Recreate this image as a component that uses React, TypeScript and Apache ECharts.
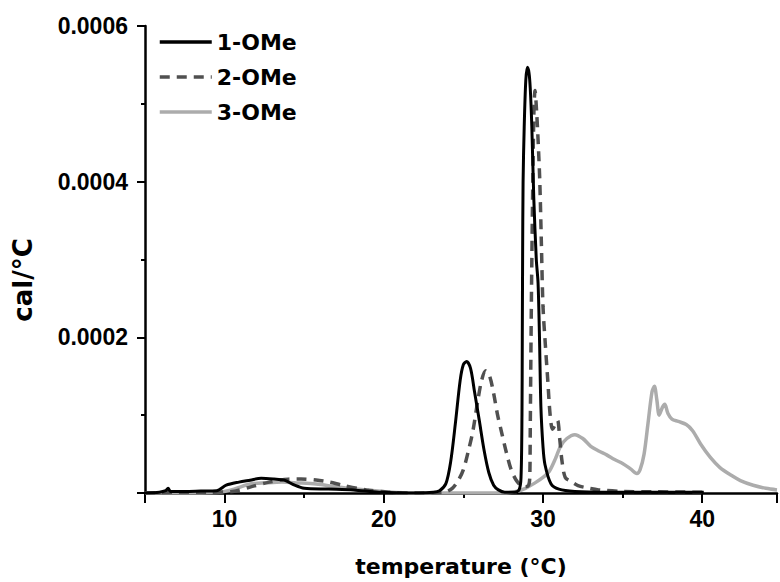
import React, { useEffect, useRef } from "react";
import * as echarts from "echarts";

const seriesNames = ["1-OMe", "2-OMe", "3-OMe"];

const ome1: [number, number][] = [
  [5.0, 0], [5.9, 0.000001], [6.3, 0.000003], [6.45, 0.000006], [6.6, 0.000002], [7.5, 0.000002],
  [8.5, 0.0000025], [9.5, 0.000003], [10.1, 0.00001], [10.9, 0.000014], [11.6, 0.0000165],
  [12.3, 0.000019], [13.1, 0.000018], [13.75, 0.0000165], [14.4, 0.00001], [15.0, 0.000006],
  [16.5, 0.000005], [18.1, 0.000004], [19.7, 0.000001], [22.2, 0], [23.1, 0.000001],
  [23.5, 0.000003], [23.9, 0.000012], [24.2, 0.00004], [24.5, 0.00009], [24.8, 0.000145],
  [25.0, 0.000165], [25.2, 0.000169], [25.45, 0.00016], [25.7, 0.00013], [26.0, 0.000093],
  [26.3, 0.000055], [26.6, 0.000026], [26.9, 0.00001], [27.2, 0.000004], [27.6, 0.000001],
  [28.2, 0.000001], [28.5, 0.000004], [28.62, 0.00002], [28.68, 0.0001], [28.7, 0.0002],
  [28.72, 0.0003], [28.75, 0.0004], [28.82, 0.00047], [28.92, 0.00053], [29.02, 0.000547],
  [29.12, 0.00054], [29.2, 0.00052], [29.3, 0.00047], [29.42, 0.00038], [29.58, 0.0003],
  [29.69, 0.00027], [29.78, 0.0002], [29.87, 0.00011], [30.0, 0.00006], [30.12, 0.000037],
  [30.5, 0.000012], [31.0, 0.000005], [32.0, 0.000002], [34.0, 0.000001], [36.0, 0.000001],
  [38.0, 0.000001], [40.1, 0.000001],
];

const ome2: [number, number][] = [
  [5.0, 0], [7.0, 0.000001], [9.0, 0.000001], [10.5, 0.000002], [11.6, 0.0000076],
  [12.8, 0.000014], [14.0, 0.0000178], [14.8, 0.000018], [15.75, 0.0000166], [16.6, 0.000014],
  [17.4, 0.00001], [18.9, 0.000004], [20.3, 0.000001], [22.0, 0], [23.8, 0.000001],
  [24.3, 0.000006], [24.7, 0.000017], [25.0, 0.00003], [25.3, 0.000053], [25.6, 0.00008],
  [25.9, 0.000118], [26.15, 0.000145], [26.4, 0.000157], [26.65, 0.00015], [26.9, 0.000128],
  [27.15, 0.0001], [27.4, 0.000078], [27.7, 0.000052], [28.0, 0.00003], [28.3, 0.000017],
  [28.6, 0.00001], [28.9, 0.000008], [29.1, 0.00001], [29.17, 0.00002], [29.2, 0.00008],
  [29.25, 0.0002], [29.3, 0.0003], [29.36, 0.0004], [29.43, 0.00049], [29.5, 0.000517],
  [29.6, 0.00049], [29.7, 0.00045], [29.8, 0.0004], [29.9, 0.00032], [30.0, 0.00024],
  [30.15, 0.00019], [30.3, 0.000145], [30.45, 0.0001], [30.6, 0.000082], [30.78, 0.000088],
  [30.92, 0.000093], [31.05, 0.00007], [31.2, 0.00004], [31.4, 0.00002], [31.75, 0.000015],
  [32.2, 0.0000095], [32.8, 0.0000065], [33.5, 0.000004], [35.0, 0.000002], [37.0, 0.0000015],
  [40.1, 0.000001],
];

const ome3: [number, number][] = [
  [5.0, 0], [8.0, 0], [9.7, 0.000001], [10.6, 0.000005], [11.6, 0.0000115], [12.6, 0.000013],
  [13.6, 0.000014], [14.6, 0.000013], [15.75, 0.0000115], [17.0, 0.000008], [18.25, 0.000005],
  [20.3, 0.0000013], [22.0, 0], [27.5, 0], [28.3, 0.000002], [28.9, 0.000006], [29.5, 0.000013],
  [30.0, 0.00002], [30.4, 0.000028], [30.8, 0.000045], [31.1, 0.00006], [31.5, 0.00007],
  [32.0, 0.000075], [32.5, 0.00007], [33.0, 0.00006], [33.5, 0.000054], [34.0, 0.000049],
  [34.5, 0.000043], [35.0, 0.000038], [35.5, 0.000031], [35.9, 0.000025], [36.1, 0.00003],
  [36.35, 0.00005], [36.6, 0.00009], [36.85, 0.00013], [37.0, 0.000137], [37.15, 0.00012],
  [37.3, 0.0001], [37.5, 0.00011], [37.65, 0.000114], [37.85, 0.000102], [38.1, 0.000095],
  [38.5, 0.000092], [39.0, 0.000088], [39.4, 0.00008], [39.9, 0.000063], [40.5, 0.000046],
  [41.1, 0.000033], [41.8, 0.000023], [42.4, 0.000016], [43.2, 0.00001], [44.0, 0.000006],
  [44.7, 0.000004],
];

const xMin = 5;
const xMax = 44.7;
const yMin = 0;
const yMax = 0.0006;
const yInterval = 0.0002;
const xTitle = "temperature (°C)";
const yTitle = "cal/°C";

export default function App() {
  const ref = useRef<HTMLDivElement>(null);
  useEffect(() => {
    if (!ref.current) return;
    const chart = echarts.init(ref.current, null, { renderer: "svg" });
    const tickFont = "Liberation Sans, Arial, sans-serif";
    const titleFont = "DejaVu Sans, sans-serif";
    chart.setOption({
      animation: false,
      backgroundColor: "#fff",
      grid: { left: 145, right: 0, top: 26, bottom: 86, containLabel: false },
      legend: {
        orient: "vertical",
        left: 158,
        top: 31,
        padding: 0,
        itemWidth: 52,
        itemHeight: 22,
        itemGap: 13,
        itemStyle: { opacity: 0 },
        lineStyle: { width: 3.5 },
        textStyle: { fontFamily: titleFont, fontWeight: "bold", fontSize: 22, color: "#000" },
        data: seriesNames,
      },
      xAxis: {
        type: "value",
        min: xMin,
        max: xMax,
        name: xTitle,
        nameLocation: "middle",
        nameGap: 62,
        nameTextStyle: { fontFamily: titleFont, fontWeight: "bold", fontSize: 22, color: "#000" },
        splitLine: { show: false },
        axisLine: { show: true, onZero: false, lineStyle: { color: "#000", width: 2.5 } },
        axisTick: { show: true, inside: false, length: 10, lineStyle: { color: "#000", width: 2 } },
        minorTick: { show: true, splitNumber: 2, length: 5, lineStyle: { color: "#000", width: 2 } },
        axisLabel: {
          margin: 14,
          fontFamily: tickFont,
          fontWeight: "bold",
          fontSize: 23,
          color: "#000",
          formatter: (v: number) => (Math.abs(v % 10) < 1e-9 ? String(v) : ""),
        },
      },
      yAxis: {
        type: "value",
        min: yMin,
        max: yMax,
        interval: yInterval,
        splitLine: { show: false },
        axisLine: { show: true, onZero: false, lineStyle: { color: "#000", width: 2.5 } },
        axisTick: { show: true, inside: false, length: 8, lineStyle: { color: "#000", width: 2 } },
        minorTick: { show: true, splitNumber: 2, length: 4, lineStyle: { color: "#000", width: 2 } },
        axisLabel: {
          margin: 17,
          fontFamily: tickFont,
          fontWeight: "bold",
          fontSize: 23,
          color: "#000",
          formatter: (v: number) => (v === 0 ? "" : v.toFixed(4)),
        },
      },
      graphic: [
        {
          type: "text",
          x: 23,
          y: 280,
          rotation: Math.PI / 2,
          style: {
            text: yTitle,
            fontFamily: titleFont,
            fontWeight: "bold",
            fontSize: 26,
            fill: "#000",
            align: "center",
            verticalAlign: "middle",
          },
        },
      ],
      series: [
        {
          name: seriesNames[2],
          type: "line",
          data: ome3,
          symbol: "none",
          smooth: 0.3,
          lineStyle: { color: "#acacac", width: 3.5 },
          itemStyle: { color: "#acacac" },
          z: 2,
        },
        {
          name: seriesNames[1],
          type: "line",
          data: ome2,
          symbol: "none",
          smooth: 0.3,
          lineStyle: { color: "#505050", width: 3.5, type: [10, 7] },
          itemStyle: { color: "#505050" },
          z: 3,
        },
        {
          name: seriesNames[0],
          type: "line",
          data: ome1,
          symbol: "none",
          smooth: 0.3,
          lineStyle: { color: "#000", width: 3 },
          itemStyle: { color: "#000" },
          z: 4,
        },
      ],
    });
    return () => chart.dispose();
  }, []);
  return (
    <div
      ref={ref}
      style={{ position: "fixed", left: 0, top: 0, width: 780, height: 582 }}
    />
  );
}
